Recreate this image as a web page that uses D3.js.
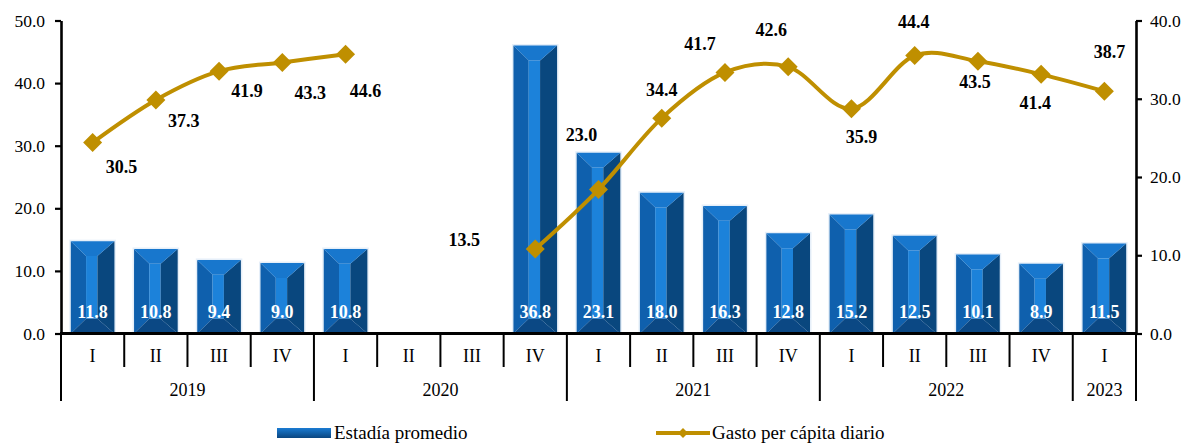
<!DOCTYPE html>
<html>
<head>
<meta charset="utf-8">
<script src="https://cdn.jsdelivr.net/npm/d3@7"></script>
<style>
  html, body { margin: 0; padding: 0; background: #fff; }
  svg text { font-family: "Liberation Serif", "Times New Roman", serif; }
</style>
</head>
<body>
<svg id="chart" width="1188" height="444"></svg>
<script>
// ---------- data ----------
const quarters = ["I","II","III","IV","I","II","III","IV","I","II","III","IV","I","II","III","IV","I"];
const years = [
  {label: "2019", start: 0, end: 4},
  {label: "2020", start: 4, end: 8},
  {label: "2021", start: 8, end: 12},
  {label: "2022", start: 12, end: 16},
  {label: "2023", start: 16, end: 17}
];
// Estadía promedio (bars, right axis)
const estadia = [11.8, 10.8, 9.4, 9.0, 10.8, null, null, 36.8, 23.1, 18.0, 16.3, 12.8, 15.2, 12.5, 10.1, 8.9, 11.5];
// Gasto per cápita diario (line, left axis)
const gasto = [30.5, 37.3, 41.9, 43.3, 44.6, null, null, 13.5, 23.0, 34.4, 41.7, 42.6, 35.9, 44.4, 43.5, 41.4, 38.7];
const leftTicks = [0, 10, 20, 30, 40, 50];
const rightTicks = [0, 10, 20, 30, 40];
const seriesNames = ["Estadía promedio", "Gasto per cápita diario"];

// ---------- layout (label offsets for line data labels, px) ----------
const lineLabelOffsets = [
  [29, 24], [28, 21], [28, 20], [28, 31], [20, 37], null, null,
  [-71, -9], [-17, -55], [0, -28], [-25, -28], [-17, -37],
  [10, 28], [-1, -34], [-3, 21], [-6, 29], [5, -39]
];

const FONT = "'Liberation Serif', 'Times New Roman', serif";
const svg = d3.select("#chart");
const X0 = 61, X1 = 1136, Y0 = 333.5, YT = 20.5;

const x = d3.scaleBand().domain(d3.range(quarters.length)).range([X0, X1])
  .paddingInner(0.31).paddingOuter(0.155);
const yL = d3.scaleLinear().domain([0, 50]).range([Y0, YT]);
const yR = d3.scaleLinear().domain([0, 40]).range([Y0, YT]);
const step = x.step();

// ---------- bars ----------
const barG = svg.append("g");
estadia.forEach((v, i) => {
  if (v == null) return;
  const x0 = x(i), w = x.bandwidth(), x1 = x0 + w;
  const yt = yR(v), yb = yR(0);
  const h = yb - yt;
  const sL = x0 + 0.35 * w, sR = x0 + 0.61 * w;
  const b = Math.min(0.34 * w, h / 2);
  const g = barG.append("g");
  // soft halo
  g.append("rect").attr("x", x0 - 1.5).attr("y", yt - 1.5).attr("width", w + 3).attr("height", h + 1.5)
    .attr("fill", "#e6eff9");
  const poly = (pts, fill) => g.append("polygon").attr("points", pts.map(p => p.join(",")).join(" ")).attr("fill", fill);
  // left face
  poly([[x0, yt], [sL, yt + b], [sL, yb - b], [x0, yb]], "#0f60ad");
  // center strip
  poly([[sL, yt + b], [sR, yt + b], [sR, yb - b], [sL, yb - b]], "#1c82da");
  // right face
  poly([[sR, yt + b], [x1, yt], [x1, yb], [sR, yb - b]], "#09477e");
  // top bevel
  poly([[x0, yt], [x1, yt], [sR, yt + b], [sL, yt + b]], "#1877cd");
  // bottom bevel
  poly([[x0, yb], [sL, yb - b], [sR, yb - b], [x1, yb]], "#0b4884");
  // value label
  g.append("text").attr("x", x0 + w / 2).attr("y", 318)
    .attr("text-anchor", "middle").attr("font-size", 18).attr("font-weight", "bold")
    .attr("font-family", FONT).attr("fill", "#fff").text(v.toFixed(1));
});

// ---------- line ----------
const gold = "#BF8F00";
const cx = i => x(i) + x.bandwidth() / 2;
const line = d3.line()
  .defined(d => d != null)
  .x((d, i) => cx(i))
  .y(d => yL(d))
  .curve(d3.curveCatmullRom.alpha(0));
svg.append("path").datum(gasto).attr("d", line)
  .attr("fill", "none").attr("stroke", gold).attr("stroke-width", 4).attr("stroke-linejoin", "round");

const diamond = (cxp, cyp, r) => `M${cxp},${cyp - r}L${cxp + r},${cyp}L${cxp},${cyp + r}L${cxp - r},${cyp}Z`;
gasto.forEach((v, i) => {
  if (v == null) return;
  svg.append("path").attr("d", diamond(cx(i), yL(v), 9.5)).attr("fill", gold);
});
gasto.forEach((v, i) => {
  if (v == null) return;
  const o = lineLabelOffsets[i];
  svg.append("text").attr("x", cx(i) + o[0]).attr("y", yL(v) + o[1] + 6)
    .attr("text-anchor", "middle").attr("font-size", 18).attr("font-weight", "bold")
    .attr("font-family", FONT).attr("fill", "#000").text(v.toFixed(1));
});

// ---------- axes ----------
const axL = svg.append("g").attr("transform", `translate(${X0},0)`)
  .call(d3.axisLeft(yL).tickValues(leftTicks).tickFormat(d3.format(".1f")).tickSize(6).tickSizeOuter(0));
const axR = svg.append("g").attr("transform", `translate(${X1},0)`)
  .call(d3.axisRight(yR).tickValues(rightTicks).tickFormat(d3.format(".1f")).tickSize(6).tickSizeOuter(0));
[axL, axR].forEach(a => {
  a.attr("font-family", FONT).attr("font-size", 17.5);
  a.select(".domain").attr("stroke", "#000").attr("stroke-width", 2.6);
  a.selectAll(".tick line").attr("stroke", "#000").attr("stroke-width", 2.2);
  a.selectAll(".tick text").attr("font-size", 17.5).attr("font-family", FONT).attr("fill", "#000");
});
axL.selectAll(".tick text").attr("x", -16);
axR.selectAll(".tick text").attr("x", 14);

// category axis
const catG = svg.append("g");
catG.append("line").attr("x1", X0 - 1).attr("x2", X1 + 1).attr("y1", Y0).attr("y2", Y0)
  .attr("stroke", "#000").attr("stroke-width", 3);
const yearBounds = new Set(years.flatMap(y => [y.start, y.end]));
for (let k = 0; k <= quarters.length; k++) {
  const xx = X0 + k * step;
  const long = yearBounds.has(k);
  catG.append("line").attr("x1", xx).attr("x2", xx).attr("y1", Y0).attr("y2", long ? 401 : 367)
    .attr("stroke", "#000").attr("stroke-width", 2);
}
quarters.forEach((q, i) => {
  catG.append("text").attr("x", cx(i)).attr("y", 362).attr("text-anchor", "middle")
    .attr("font-size", 18).attr("font-family", FONT).attr("fill", "#000").text(q);
});
years.forEach(y => {
  const xm = X0 + (y.start + y.end) / 2 * step;
  catG.append("text").attr("x", xm).attr("y", 396).attr("text-anchor", "middle")
    .attr("font-size", 18).attr("font-family", FONT).attr("fill", "#000").text(y.label);
});

// ---------- legend ----------
const leg = svg.append("g");
const grad = svg.append("defs").append("linearGradient").attr("id", "legGrad")
  .attr("x1", 0).attr("y1", 0).attr("x2", 0).attr("y2", 1);
grad.append("stop").attr("offset", "0%").attr("stop-color", "#1a7bd2");
grad.append("stop").attr("offset", "100%").attr("stop-color", "#0a4680");
leg.append("rect").attr("x", 277).attr("y", 428).attr("width", 54).attr("height", 10).attr("fill", "url(#legGrad)");
leg.append("text").attr("x", 334).attr("y", 439).attr("font-size", 19).attr("font-family", FONT)
  .attr("fill", "#000").text(seriesNames[0]);
leg.append("line").attr("x1", 656).attr("x2", 710).attr("y1", 433).attr("y2", 433)
  .attr("stroke", gold).attr("stroke-width", 4);
leg.append("path").attr("d", diamond(683, 433, 5)).attr("fill", gold);
leg.append("text").attr("x", 712).attr("y", 439).attr("font-size", 19).attr("font-family", FONT)
  .attr("fill", "#000").text(seriesNames[1]);
</script>
</body>
</html>
